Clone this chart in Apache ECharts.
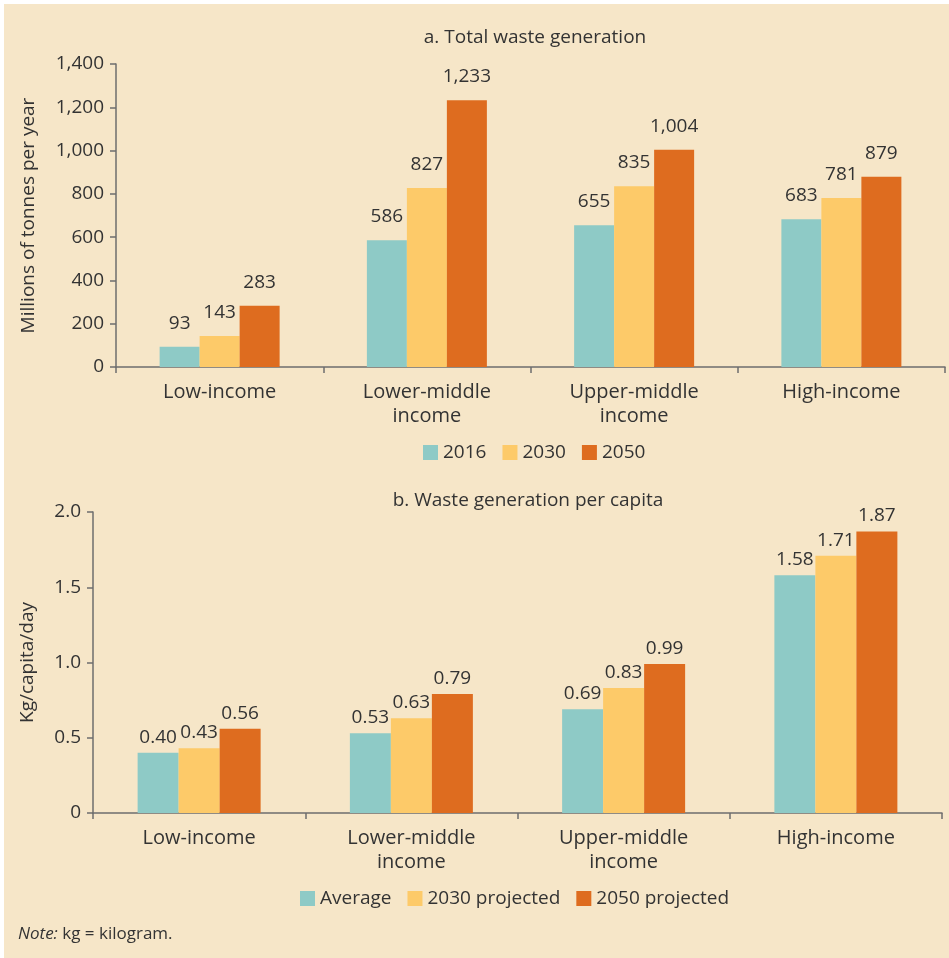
<!DOCTYPE html>
<html>
<head>
<meta charset="utf-8">
<script src="https://cdn.jsdelivr.net/npm/echarts@6/dist/echarts.min.js"></script>
<style>
  html, body { margin: 0; padding: 0; background: #ffffff; }
  #chart { width: 949px; height: 958px; }
</style>
</head>
<body>
<div id="chart"></div>
<script>
// Income groups shared by both panels
const categories = ['Low-income', 'Lower-middle\nincome', 'Upper-middle\nincome', 'High-income'];

// Panel a: total waste generation, millions of tonnes per year
const totalNames = ['2016', '2030', '2050'];
const total2016 = [93, 586, 655, 683];
const total2030 = [143, 827, 835, 781];
const total2050 = [283, 1233, 1004, 879];
const totalTicks = [0, 200, 400, 600, 800, 1000, 1200, 1400];

// Panel b: waste generation per capita, kg/capita/day
const perCapNames = ['Average', '2030 projected', '2050 projected'];
const perCapAvg = [0.40, 0.53, 0.69, 1.58];
const perCap2030 = [0.43, 0.63, 0.83, 1.71];
const perCap2050 = [0.56, 0.79, 0.99, 1.87];
const perCapTicks = [0, 0.5, 1.0, 1.5, 2.0];

const colors = ['#8ecac6', '#fdca69', '#de6c1f'];
const bg = '#f6e6c8';
const textColor = '#333333';
const axisColor = '#6e6e6e';
const font = '"Open Sans", "Noto Sans", sans-serif';

const withCommas = v => String(v).replace(/\B(?=(\d{3})+(?!\d))/g, ',');

function barSeries(name, data, idx, colorIdx, fmt, dist) {
  return {
    name: name,
    type: 'bar',
    xAxisIndex: idx,
    yAxisIndex: idx,
    data: data,
    barWidth: idx === 0 ? 40 : 41,
    barGap: '0%',
    itemStyle: { color: colors[colorIdx] },
    label: {
      show: true,
      position: 'top',
      distance: dist,
      color: textColor,
      fontFamily: font,
      fontSize: 19,
      formatter: p => fmt(p.value)
    },
    emphasis: { disabled: true }
  };
}

function xAxisCfg(idx) {
  return {
    type: 'category',
    gridIndex: idx,
    data: categories,
    axisLine: { lineStyle: { color: axisColor, width: 1.5 } },
    axisTick: { show: true, length: 6, lineStyle: { color: axisColor, width: 1.5 } },
    axisLabel: {
      color: textColor, fontFamily: font, fontSize: 20,
      margin: 13, lineHeight: 24, interval: 0
    }
  };
}

function yAxisCfg(idx, ticks, name, gap, fmt, margin) {
  return {
    type: 'value',
    gridIndex: idx,
    min: ticks[0],
    max: ticks[ticks.length - 1],
    interval: ticks[1] - ticks[0],
    name: name,
    nameLocation: 'middle',
    nameGap: gap,
    nameTextStyle: { color: textColor, fontFamily: font, fontSize: 19 },
    splitLine: { show: false },
    axisLine: { show: true, lineStyle: { color: axisColor, width: 1.5 } },
    axisTick: { show: true, length: 6, lineStyle: { color: axisColor, width: 1.5 } },
    axisLabel: { color: textColor, fontFamily: font, fontSize: 19, margin: margin, formatter: fmt }
  };
}

const legendText = { color: textColor, fontFamily: font, fontSize: 19 };

const chart = echarts.init(document.getElementById('chart'), null, { renderer: 'canvas' });

chart.setOption({
  backgroundColor: bg,
  animation: false,
  title: [
    { text: 'a. Total waste generation', left: 530, top: 23, textAlign: 'center',
      textStyle: { color: textColor, fontFamily: font, fontSize: 19, fontWeight: 'normal' } },
    { text: 'b. Waste generation per capita', left: 523, top: 486, textAlign: 'center',
      textStyle: { color: textColor, fontFamily: font, fontSize: 19, fontWeight: 'normal' } }
  ],
  legend: [
    { data: totalNames, top: 438, left: 418, icon: 'rect', itemWidth: 15, itemHeight: 15,
      itemGap: 16, selectedMode: false, textStyle: legendText },
    { data: perCapNames, top: 884, left: 295, icon: 'rect', itemWidth: 15, itemHeight: 15,
      itemGap: 16, selectedMode: false, textStyle: legendText }
  ],
  grid: [
    { left: 116, right: 4, top: 64, bottom: 591 },
    { left: 93, right: 7, top: 512, bottom: 145 }
  ],
  xAxis: [xAxisCfg(0), xAxisCfg(1)],
  yAxis: [
    yAxisCfg(0, totalTicks, 'Millions of tonnes per year', 78, v => withCommas(v), 12),
    yAxisCfg(1, perCapTicks, 'Kg/capita/day', 56, v => (v === 0 ? '0' : v.toFixed(1)), 12)
  ],
  series: [
    barSeries(totalNames[0], total2016, 0, 0, withCommas, 14),
    barSeries(totalNames[1], total2030, 0, 1, withCommas, 14),
    barSeries(totalNames[2], total2050, 0, 2, withCommas, 14),
    barSeries(perCapNames[0], perCapAvg, 1, 0, v => v.toFixed(2), 6),
    barSeries(perCapNames[1], perCap2030, 1, 1, v => v.toFixed(2), 6),
    barSeries(perCapNames[2], perCap2050, 1, 2, v => v.toFixed(2), 6)
  ],
  graphic: [
    { type: 'rect', left: 0, top: 0, shape: { width: 949, height: 4 }, style: { fill: '#ffffff' }, silent: true },
    { type: 'rect', left: 0, top: 0, shape: { width: 4, height: 958 }, style: { fill: '#ffffff' }, silent: true },
    {
      type: 'text', left: 18, top: 926, silent: true,
      style: {
        text: '{i|Note:} kg = kilogram.',
        fill: textColor, font: '17px ' + font,
        rich: { i: { fontStyle: 'italic', fontFamily: font, fontSize: 17, fill: textColor } }
      }
    }
  ]
});
</script>
</body>
</html>
